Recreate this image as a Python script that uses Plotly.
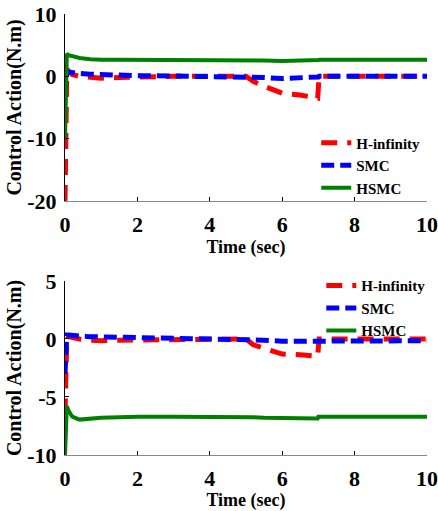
import plotly.graph_objects as go
from plotly.subplots import make_subplots

# ---- data ----
t = [0, 0.02, 0.05, 0.1, 0.2, 0.4, 0.7, 1, 1.5, 2, 3, 4, 5, 5.2, 5.5, 6, 6.5, 6.98, 7.0, 7.02, 8, 9, 10]

# top panel
hinf_top = [-20, -10, 1.2, 0.8, 0.3, 0.0, -0.2, -0.3, -0.2, -0.1, 0, 0, 0, -0.8, -1.6, -2.7, -3.0, -3.5, -2.0, 0.0, 0, 0, 0]
smc_top = [-3, 0.0, 0.8, 0.7, 0.6, 0.45, 0.35, 0.25, 0.15, 0.1, 0.05, 0, 0, -0.1, -0.2, -0.35, -0.3, -0.1, -0.1, 0.0, 0, 0, 0]
hsmc_top = [-10, -2, 3.6, 3.4, 3.2, 2.95, 2.75, 2.65, 2.65, 2.65, 2.65, 2.65, 2.65, 2.6, 2.55, 2.45, 2.45, 2.45, 2.6, 2.65, 2.65, 2.65, 2.65]

# bottom panel
hinf_bot = [-6.5, -3, 0.3, 0.2, 0.1, 0.0, -0.1, -0.15, -0.1, -0.1, -0.05, 0, 0, -0.5, -0.8, -1.3, -1.35, -1.5, -0.7, 0.0, 0, 0, 0]
smc_bot = [-3, -1, 0.35, 0.35, 0.3, 0.25, 0.2, 0.18, 0.15, 0.1, 0.05, 0.02, 0, -0.05, -0.1, -0.2, -0.2, -0.2, -0.2, -0.15, -0.15, -0.15, -0.15]
hsmc_bot = [-10, -7, -5.8, -6.2, -6.7, -6.95, -6.85, -6.8, -6.75, -6.7, -6.7, -6.7, -6.7, -6.75, -6.8, -6.8, -6.85, -6.85, -6.7, -6.7, -6.7, -6.7, -6.7]

series_names = ["H-infinity", "SMC", "HSMC"]
x_ticks = [0, 2, 4, 6, 8, 10]
y_ticks_top = [-20, -10, 0, 10]
y_ticks_bot = [-10, -5, 0, 5]

FONT = "Liberation Serif"
colors = ["#ff0000", "#0000ff", "#008000"]
dashes = ["16px,10px", "13px,6px", "solid"]
widths = [5, 5, 4]

fig = make_subplots(rows=2, cols=1)

top = [hinf_top, smc_top, hsmc_top]
bot = [hinf_bot, smc_bot, hsmc_bot]
for i in range(3):
    fig.add_trace(go.Scatter(x=t, y=top[i], mode="lines", name=series_names[i],
                             line=dict(color=colors[i], dash=dashes[i], width=widths[i]),
                             legend="legend"), row=1, col=1)
for i in range(3):
    fig.add_trace(go.Scatter(x=t, y=bot[i], mode="lines", name=series_names[i],
                             line=dict(color=colors[i], dash=dashes[i], width=widths[i]),
                             legend="legend2"), row=2, col=1)

axfont = dict(family=FONT, size=22, color="black", weight="bold")
xtitlefont = dict(family=FONT, size=18, color="black", weight="bold")
ytitlefont = dict(family=FONT, size=20, color="black", weight="bold")
legfont = dict(family=FONT, size=15, color="black", weight="bold")

def lbl(v):
    return [str(x) for x in v]

for r in (1, 2):
    fig.update_xaxes(range=[0, 10], tickvals=x_ticks, ticktext=lbl(x_ticks), ticks="inside", ticklen=4,
                     tickcolor="black", automargin=False,
                     showline=True, linecolor="#888888", linewidth=1, showgrid=False, zeroline=False,
                     tickfont=axfont, ticklabelstandoff=4,
                     title=dict(text="Time (sec)", font=xtitlefont, standoff=0), row=r, col=1)
fig.update_yaxes(range=[-20, 10], tickvals=y_ticks_top, ticktext=lbl(y_ticks_top), ticks="inside", ticklen=4,
                 tickcolor="black", automargin=False,
                 showline=True, linecolor="black", linewidth=1, showgrid=False, zeroline=False,
                 tickfont=axfont, ticklabelstandoff=3,
                 title=dict(text="Control Action(N.m)", font=ytitlefont, standoff=0), row=1, col=1)
fig.update_yaxes(range=[-10, 5], tickvals=y_ticks_bot, ticktext=lbl(y_ticks_bot), ticks="inside", ticklen=4,
                 tickcolor="black", automargin=False,
                 showline=True, linecolor="black", linewidth=1, showgrid=False, zeroline=False,
                 tickfont=axfont, ticklabelstandoff=3,
                 title=dict(text="Control Action(N.m)", font=ytitlefont, standoff=0), row=2, col=1)

fig.update_layout(
    width=438, height=511,
    margin=dict(l=65, r=11, t=14, b=56, autoexpand=False),
    paper_bgcolor="white", plot_bgcolor="white",
    xaxis=dict(domain=[0, 1]), xaxis2=dict(domain=[0, 1]),
    yaxis=dict(domain=[0.576, 1.0]), yaxis2=dict(domain=[0.0, 0.3946]),
    legend=dict(x=0.694, y=0.745, xanchor="left", yanchor="top", bgcolor="rgba(0,0,0,0)",
                font=legfont, itemwidth=30, tracegroupgap=0),
    legend2=dict(x=0.708, y=0.421, xanchor="left", yanchor="top", bgcolor="rgba(0,0,0,0)",
                 font=legfont, itemwidth=30, tracegroupgap=0),
)

fig.write_html("out.html", config={"displayModeBar": False},
               post_script="document.body.style.margin='0';document.body.style.padding='0';document.body.style.overflow='hidden';")
